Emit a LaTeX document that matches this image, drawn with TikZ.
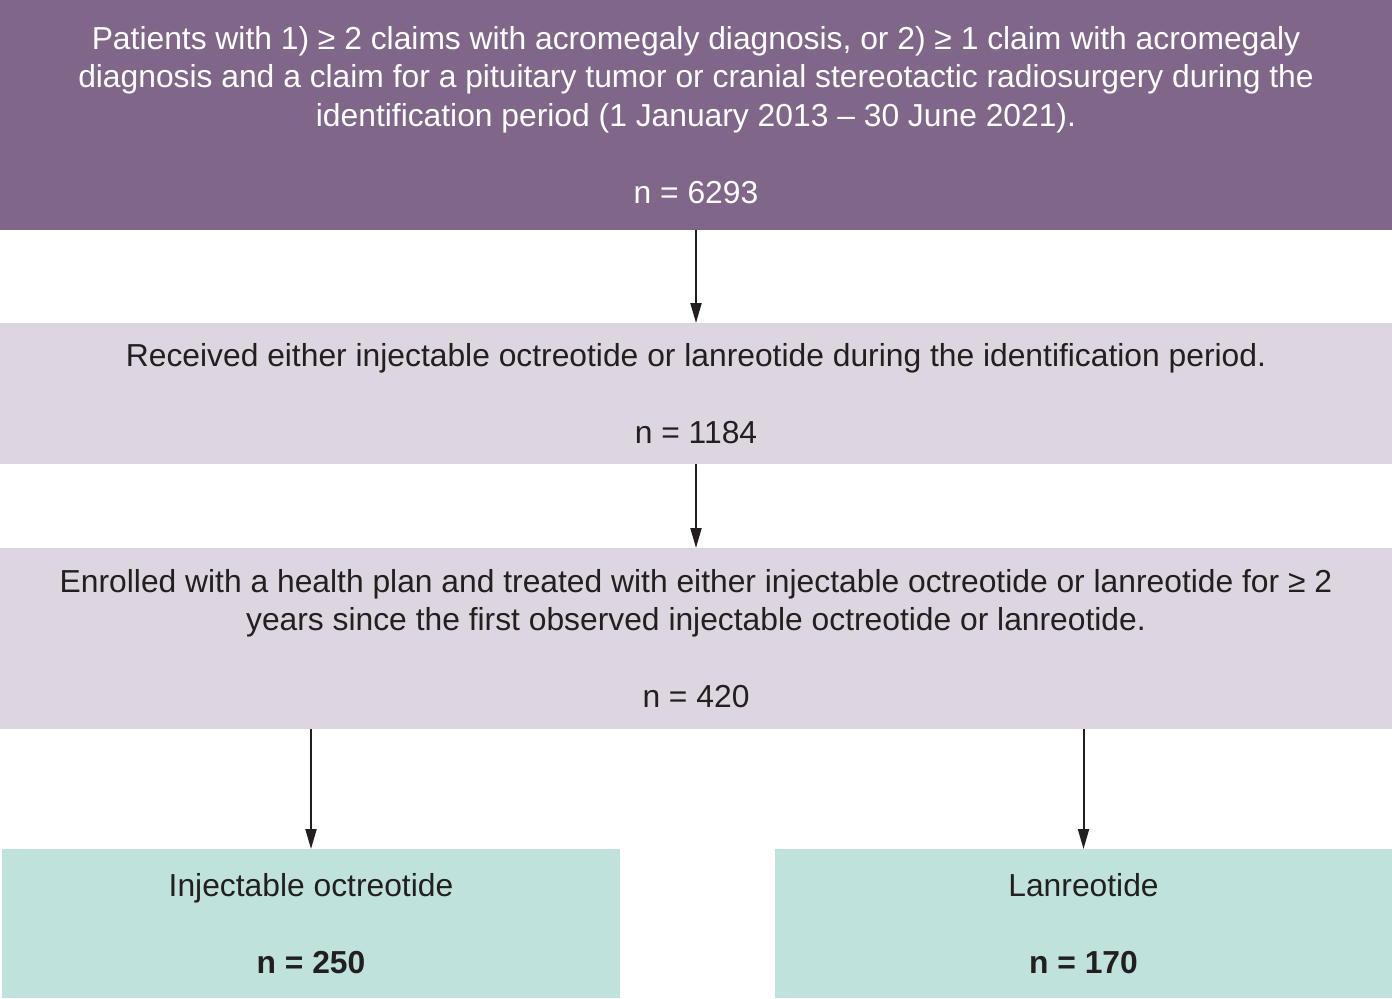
\documentclass[tikz,border=0pt]{standalone}
\usepackage{fontspec}
\setmainfont{Liberation Sans}
\usepackage{xcolor}
\usetikzlibrary{arrows.meta,positioning}
\definecolor{plum}{HTML}{80678A}
\definecolor{lilac}{HTML}{DDD5DF}
\definecolor{mint}{HTML}{BFE3DC}
\definecolor{ink}{HTML}{231F20}
\tikzset{stage/.style={inner sep=0pt,outer sep=0pt,align=center,font=\fontsize{15.9}{19.25}\selectfont,text=ink},flow/.style={-{Triangle[length=10pt,width=5.5pt]},draw=ink,line width=1pt}}

\begin{document}
\begin{tikzpicture}[x=0.5pt,y=-0.5pt]
\useasboundingbox (0,0) rectangle (1392,998);
\node[stage,fill=plum,text=white,minimum width=696pt,minimum height=115pt] (pool) at (696,115) {Patients with 1) ≥ 2 claims with acromegaly diagnosis, or 2) ≥ 1 claim with acromegaly\\diagnosis and a claim for a pituitary tumor or cranial stereotactic radiosurgery during the\\identification period (1 January 2013 – 30 June 2021).\\[19.25pt]n = 6293};
\node[stage,fill=lilac,minimum width=696pt,minimum height=70.5pt] (srl) at (696,393.5) {Received either injectable octreotide or lanreotide during the identification period.\\[19.25pt]n = 1184};
\node[stage,fill=lilac,minimum width=696pt,minimum height=90.5pt] (enrol) at (696,638.5) {Enrolled with a health plan and treated with either injectable octreotide or lanreotide for ≥ 2\\years since the first observed injectable octreotide or lanreotide.\\[19.25pt]n = 420};
\node[stage,fill=mint,minimum width=309pt,minimum height=74.5pt] (oct) at (311,923.5) {Injectable octreotide\\[19.25pt]\textbf{n = 250}};
\node[stage,fill=mint,minimum width=308.5pt,minimum height=74.5pt] (lan) at (1083.5,923.5) {Lanreotide\\[19.25pt]\textbf{n = 170}};
\draw[flow] (pool)--(srl);\draw[flow] (srl)--(enrol);
\draw[flow] (enrol.south -| oct.north)--(oct.north);\draw[flow] (enrol.south -| lan.north)--(lan.north);
\end{tikzpicture}
\end{document}
